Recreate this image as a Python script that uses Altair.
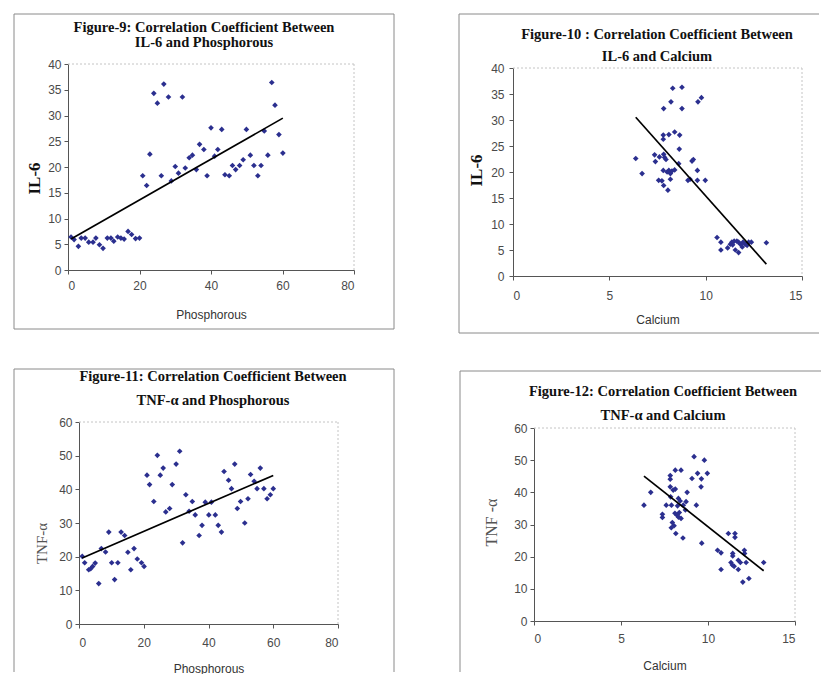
import altair as alt
import pandas as pd

# ---------------- data ----------------
# Figure 9: IL-6 vs Phosphorous
f9_phos = [0.85, 1.7, 2.9, 3.7, 4.8, 5.8, 7.0, 7.8, 8.8, 9.8, 11.0, 12.0, 12.8, 13.9, 14.8, 15.7, 16.8, 17.8, 18.9, 20.0,
           20.9, 22.0, 22.9, 24.0, 25.0, 26.1, 26.8, 28.1, 28.9, 30.0, 30.9, 32.0, 32.8, 33.9, 34.8, 35.9, 36.8, 38.0, 38.9, 40.0,
           41.0, 41.9, 43.0, 43.9, 45.1, 46.0, 46.9, 48.0, 49.0, 49.9, 51.0, 52.0, 53.1, 54.0, 54.9, 55.9, 57.0, 57.9, 59.0, 60.1]
f9_il6 = [6.4, 5.9, 4.6, 6.2, 6.2, 5.4, 5.4, 6.2, 4.9, 4.2, 6.2, 6.2, 5.6, 6.4, 6.2, 6.0, 7.5, 6.9, 6.1, 6.2,
          18.3, 16.4, 22.5, 34.3, 32.4, 18.3, 36.1, 33.6, 17.3, 20.1, 18.8, 33.6, 19.8, 21.8, 22.3, 19.5, 24.4, 23.4, 18.3, 27.6,
          22.1, 23.4, 27.3, 18.5, 18.3, 20.3, 19.5, 20.3, 21.4, 27.3, 22.3, 20.3, 18.3, 20.3, 27.0, 22.3, 36.4, 32.0, 26.3, 22.7]

# Figure 10: IL-6 vs Calcium
f10_cal = [6.37, 6.7, 7.35, 7.39, 7.6, 7.82, 7.87, 7.94, 7.56, 7.73, 7.82, 8.04, 7.8, 8.09, 8.17, 8.25, 8.39, 8.17, 7.8, 7.8,
           8.09, 8.39, 8.65, 8.63, 8.6, 7.82, 8.2, 8.29, 8.77, 8.77, 9.6, 9.78, 9.08, 9.19, 9.29, 9.36, 9.57, 9.57, 9.98, 8.0,
           10.59, 10.79, 10.79, 11.14, 11.28, 11.36, 11.48, 11.62, 11.71, 11.54, 11.71, 11.8, 11.94, 12.06, 12.23, 12.37, 13.15, 11.9, 12.15, 11.4]
f10_il6 = [22.6, 19.7, 23.3, 22.0, 22.9, 23.4, 22.8, 22.4, 18.4, 18.3, 17.4, 16.5, 20.3, 20.3, 19.7, 20.2, 20.4, 18.6, 27.1, 26.3,
           27.2, 27.7, 27.1, 24.4, 21.6, 32.2, 33.5, 36.1, 36.3, 32.2, 33.5, 34.3, 18.4, 18.6, 22.1, 22.4, 20.3, 18.4, 18.4, 20.0,
           7.4, 6.5, 5.0, 5.4, 6.1, 6.5, 6.7, 6.7, 6.5, 5.0, 4.5, 6.1, 6.5, 6.1, 6.5, 6.5, 6.4, 5.6, 5.9, 6.0]

# Figure 11: TNF-alpha vs Phosphorous
f11_phos = [1.0, 1.75, 3.0, 3.6, 4.2, 5.0, 6.1, 6.9, 8.2, 9.2, 10.1, 11.0, 12.0, 13.0, 14.1, 15.1, 16.0, 17.0, 18.0, 19.3, 20.1,
            21.0, 21.8, 23.1, 24.2, 25.1, 26.0, 26.8, 28.0, 28.8, 30.0, 31.1, 32.0, 33.0, 34.0, 35.0, 35.9, 37.1, 38.0, 39.0, 40.1,
            40.9, 42.1, 43.0, 44.0, 44.8, 46.2, 47.1, 48.1, 48.9, 49.9, 51.2, 52.2, 53.0, 54.1, 55.0, 56.0, 57.1, 58.1, 59.1, 60.0]
f11_tnf = [20.1, 18.2, 16.1, 16.4, 17.1, 18.1, 12.0, 22.4, 21.4, 27.3, 18.2, 13.2, 18.2, 27.3, 26.3, 21.3, 16.1, 22.4, 19.3, 18.2, 17.1,
           44.2, 41.4, 36.4, 50.1, 44.2, 46.3, 33.3, 34.3, 41.4, 47.5, 51.3, 24.1, 38.4, 33.5, 36.4, 32.4, 26.3, 29.3, 36.2, 32.4,
           36.2, 32.4, 29.3, 27.3, 45.3, 42.7, 40.2, 47.5, 34.3, 36.4, 30.0, 37.2, 44.4, 42.4, 40.2, 46.3, 40.2, 37.2, 38.4, 40.2]

# Figure 12: TNF-alpha vs Calcium
f12_cal = [6.32, 6.71, 7.38, 7.38, 7.6, 7.83, 7.83, 7.83, 7.85, 7.9, 8.12, 8.45, 8.12, 7.95, 8.05, 7.89, 8.15, 8.56, 8.3, 8.4,
           8.25, 8.35, 8.22, 8.45, 8.1, 8.3, 8.58, 8.74, 8.8, 9.08, 9.2, 9.33, 9.4, 9.62, 9.6, 9.79, 9.96, 9.64, 8.7, 8.0,
           10.55, 10.75, 10.75, 11.17, 11.55, 11.55, 11.42, 11.42, 11.32, 11.4, 11.5, 11.74, 11.74, 11.86, 12.09, 12.19, 12.0, 12.35, 13.2, 12.1]
f12_tnf = [36.0, 40.0, 33.2, 32.2, 36.0, 45.2, 44.1, 41.7, 38.6, 36.0, 46.9, 46.9, 41.0, 30.6, 29.6, 29.0, 27.2, 25.8, 38.1, 37.3,
           35.8, 33.7, 32.9, 31.9, 33.5, 32.3, 36.0, 37.1, 40.0, 44.3, 51.1, 36.0, 45.9, 44.2, 41.7, 50.0, 45.9, 24.2, 34.5, 40.7,
           22.0, 21.2, 16.0, 27.2, 27.2, 26.0, 21.0, 20.2, 18.2, 17.4, 17.0, 18.9, 16.0, 18.2, 22.0, 18.2, 12.1, 13.2, 18.2, 21.0]

# ---------------- style ----------------
BLUE = "#2b2f8f"
FRAME = "#8a8a8a"
PLOTBORDER = "#c4c4c4"
SERIF = "Liberation Serif"
SANS = "Liberation Sans"
one = pd.DataFrame({"k": [0]})


def seg(x1, y1, x2, y2, color=FRAME, dash=None):
    kw = dict(color=color, strokeWidth=1)
    if dash:
        kw["strokeDash"] = dash
    return alt.Chart(one).mark_rule(**kw).encode(
        x=alt.value(x1), y=alt.value(y1), x2=alt.value(x2), y2=alt.value(y2))


def txt(s, x, y):
    return alt.Chart(one).mark_text(text=s, font=SERIF, fontSize=14.5, fontWeight="bold",
                                    color="#111111", align="center", baseline="middle").encode(
        x=alt.value(x), y=alt.value(y))


def panel(xs, ys, vw, vh, xrange, yrange, yoffset, xdom, xvals, ydom, yvals, xtitle, ytitle, ystyle,
          xlabpad, ylabpad, xtitle_y, ytitle_x, ytitle_y, title_lines, title_pos, frame, sides):
    df = pd.DataFrame({"x": xs, "y": ys})
    xenc = alt.X("x:Q", scale=alt.Scale(domain=xdom, range=xrange, nice=False, zero=True),
                 axis=alt.Axis(values=xvals, title=xtitle, labelPadding=xlabpad,
                               titleFont=SANS, titleFontSize=12, titleFontWeight="normal",
                               titleColor="#333333", titleY=xtitle_y, titleBaseline="middle"))
    yenc = alt.Y("y:Q", scale=alt.Scale(domain=ydom, range=yrange, nice=False, zero=True),
                 axis=alt.Axis(values=yvals, title=ytitle, labelPadding=ylabpad, offset=yoffset,
                               titleAngle=270, titleX=ytitle_x, titleY=ytitle_y,
                               titleBaseline="middle", titleAlign="center", **ystyle))
    base = alt.Chart(df)
    pts = base.mark_point(shape="diamond", filled=True, size=32, color=BLUE, opacity=1).encode(x=xenc, y=yenc)
    reg = base.transform_regression("x", "y").mark_line(color="black", strokeWidth=1.7).encode(x=xenc, y=yenc)
    # dotted plot-area border (top and right), as in the spreadsheet chart
    px0, px1 = xrange
    py1, py0 = yrange
    layers = [seg(px0, py0, px1, py0, PLOTBORDER, [2, 2]), seg(px1, py0, px1, py1, PLOTBORDER, [2, 2]), pts, reg]
    x1, y1, x2, y2 = frame
    if "top" in sides:
        layers.append(seg(x1, y1, x2, y1))
    if "left" in sides:
        layers.append(seg(x1, y1, x1, y2))
    if "right" in sides:
        layers.append(seg(x2, y1, x2, y2))
    if "bottom" in sides:
        layers.append(seg(x1, y2, x2, y2))
    tx, ty1, ty2 = title_pos
    layers.append(txt(title_lines[0], tx, ty1))
    layers.append(txt(title_lines[1], tx, ty2))
    return alt.layer(*layers).properties(width=vw, height=vh)


bold_y = dict(titleFont=SERIF, titleFontSize=17, titleFontWeight="bold", titleColor="#111111")
thin_y = dict(titleFont=SERIF, titleFontSize=15, titleFontWeight="normal", titleColor="#555555")

c9 = panel(f9_phos, f9_il6, 286, 206, [0, 286], [206, 0], 0,
           [0, 80], [0, 20, 40, 60, 80], [0, 40], list(range(0, 45, 5)),
           "Phosphorous", "IL-6", bold_y, 6, 3, 44, -34, 114,
           ["Figure-9: Correlation Coefficient Between", "IL-6 and Phosphorous"], (136, -36, -21),
           (-54, -50, 326, 265), ["top", "left", "right", "bottom"])
c10 = panel(f10_cal, f10_il6, 289, 212, [0, 289], [212, 4], 0,
            [0, 15], [0, 5, 10, 15], [0, 40], list(range(0, 45, 5)),
            "Calcium", "IL-6", bold_y, 10, 5, 43, -37, 106,
            ["Figure-10 : Correlation Coefficient Between", "IL-6 and Calcium"], (144, -29, -7.5),
            (-54, -50, 306, 269), ["top", "left", "bottom"])
c11 = panel(f11_phos, f11_tnf, 270, 202, [11, 270], [202, 0], -11,
            [0, 80], [0, 20, 40, 60, 80], [0, 60], list(range(0, 70, 10)),
            "Phosphorous", "TNF-α", thin_y, 9, 3, 44, -38, 121,
            ["Figure-11: Correlation Coefficient Between", "TNF-α and Phosphorous"], (145, -45, -21.5),
            (-54, -53, 326, 250), ["top", "left", "right"])
c12 = panel(f12_cal, f12_tnf, 261, 199, [0, 261], [199, 6], 0,
            [0, 15], [0, 5, 10, 15], [0, 60], list(range(0, 70, 10)),
            "Calcium", "TNF -α", dict(thin_y, titleFontSize=16), 8, 3, 44, -43, 100,
            ["Figure-12: Correlation Coefficient Between", "TNF-α and Calcium"], (129, -30, -6),
            (-74, -51, 287, 250), ["top", "left"])

chart = alt.vconcat(
    alt.hconcat(c9, c10, spacing=63),
    alt.hconcat(c11, c12, spacing=64),
    spacing=34,
).properties(
    padding={"left": 5, "top": 5, "right": 0, "bottom": 0},
    background="white",
).configure_view(
    strokeOpacity=0
).configure_axis(
    grid=False, domainColor="#555555", tickColor="#555555", tickSize=4,
    labelFont=SANS, labelFontSize=12, labelColor="#4a4a4a",
)

chart.save("out.html", embed_options={"renderer": "svg", "actions": False})
